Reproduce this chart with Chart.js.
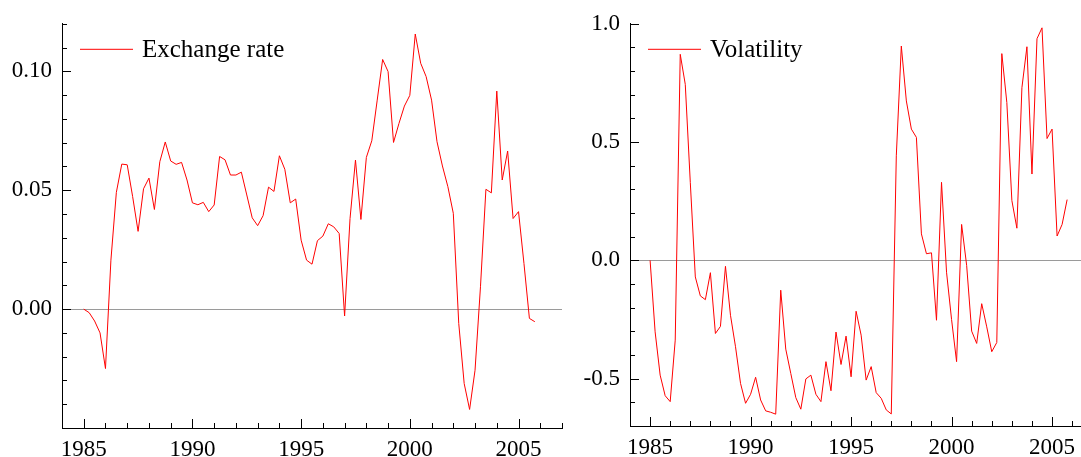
<!DOCTYPE html>
<html>
<head>
<meta charset="utf-8">
<script src="https://cdn.jsdelivr.net/npm/chart.js@4.4.1/dist/chart.umd.min.js"></script>
<style>
  html, body { margin: 0; padding: 0; background: #fff; overflow: hidden; }
  .panel { position: absolute; top: 0; height: 457px; }
  #left { left: 0; width: 570px; }
  #right { left: 570px; width: 511px; }
</style>
</head>
<body>
<div class="panel" id="left"><canvas id="exchangeChart"></canvas></div>
<div class="panel" id="right"><canvas id="volatilityChart"></canvas></div>
<script>
/* ================= DATA ================= */
// quarterly observations, 1985Q1 .. 2005Q4
const quarters = [];
for (let year = 1985; year <= 2005; year++) {
    for (let q = 0; q < 4; q++) quarters.push(year + q / 4);
}

const exchangeRate = [
    0.000, -0.0015, -0.005, -0.010, -0.025, 0.0206, 0.0491, 0.0610,
    0.0607, 0.0473, 0.0327, 0.0506, 0.0551, 0.0419, 0.0620, 0.0703,
    0.0623, 0.0609, 0.0617, 0.0543, 0.0447, 0.0439, 0.0449, 0.0410,
    0.0438, 0.0642, 0.0628, 0.0564, 0.0564, 0.0576, 0.0480, 0.0384,
    0.0351, 0.0393, 0.0513, 0.0495, 0.0645, 0.0588, 0.0447, 0.0463,
    0.0290, 0.0206, 0.0189, 0.0288, 0.0307, 0.0359, 0.0346, 0.0318,
    -0.0029, 0.0381, 0.0627, 0.0377, 0.0638, 0.0708, 0.0879, 0.1050,
    0.0999, 0.0701, 0.0781, 0.0854, 0.0899, 0.1157, 0.1034, 0.0978,
    0.0879, 0.0704, 0.0602, 0.0515, 0.0403, -0.0060, -0.0313, -0.0422,
    -0.0257, 0.0094, 0.0504, 0.0489, 0.0917, 0.0543, 0.0665, 0.0381,
    0.0410, 0.0192, -0.0039, -0.0053
];

const volatility = [
    0.000, -0.302, -0.485, -0.572, -0.597, -0.337, 0.871, 0.744,
    0.330, -0.070, -0.150, -0.166, -0.052, -0.309, -0.279, -0.025,
    -0.232, -0.365, -0.520, -0.604, -0.566, -0.494, -0.590, -0.636,
    -0.642, -0.650, -0.126, -0.375, -0.478, -0.580, -0.629, -0.501,
    -0.485, -0.566, -0.597, -0.428, -0.551, -0.303, -0.440, -0.320,
    -0.492, -0.215, -0.316, -0.506, -0.449, -0.559, -0.583, -0.632,
    -0.649, 0.442, 0.906, 0.674, 0.555, 0.520, 0.112, 0.028,
    0.032, -0.253, 0.330, -0.050, -0.250, -0.428, 0.152, -0.021,
    -0.299, -0.351, -0.183, -0.281, -0.386, -0.347, 0.874, 0.667,
    0.253, 0.136, 0.730, 0.903, 0.365, 0.937, 0.983, 0.515,
    0.555, 0.103, 0.152, 0.257
];

const yearTicks = [1984, 1985, 1986, 1987, 1988, 1989, 1990, 1991, 1992, 1993, 1994, 1995,
    1996, 1997, 1998, 1999, 2000, 2001, 2002, 2003, 2004, 2005, 2006, 2007];
const yearLabels = ['1985', '1990', '1995', '2000', '2005'];

const exchangeTicks = [-0.05, -0.04, -0.03, -0.02, -0.01, 0, 0.01, 0.02, 0.03, 0.04,
    0.05, 0.06, 0.07, 0.08, 0.09, 0.10, 0.11, 0.12];
const exchangeLabels = ['0.00', '0.05', '0.10'];

const volatilityTicks = [-0.7, -0.6, -0.5, -0.4, -0.3, -0.2, -0.1, 0, 0.1, 0.2,
    0.3, 0.4, 0.5, 0.6, 0.7, 0.8, 0.9, 1.0];
const volatilityLabels = ['-0.5', '0.0', '0.5', '1.0'];

/* ================= STYLE ================= */
const SERIF = '"Liberation Serif", "Times New Roman", serif';
Chart.defaults.font.family = SERIF;
Chart.defaults.font.size = 23;
Chart.defaults.color = '#000';

/* ================= PLUGINS ================= */
// tick marks drawn inside the plot, long ones where there is a label
const innerTicks = {
    id: 'innerTicks',
    afterDraw(chart) {
        const { ctx, chartArea } = chart;
        const xs = chart.scales.x, ys = chart.scales.y;
        ctx.save();
        ctx.strokeStyle = '#000';
        ctx.lineWidth = 1;
        ctx.beginPath();
        xs.ticks.forEach(t => {
            const px = Math.round(xs.getPixelForValue(t.value)) + 0.5;
            const len = t.label ? 9 : 5;
            ctx.moveTo(px, chartArea.bottom);
            ctx.lineTo(px, chartArea.bottom - len);
        });
        ys.ticks.forEach(t => {
            const py = Math.round(ys.getPixelForValue(t.value)) + 0.5;
            const len = t.label ? 9 : 5;
            ctx.moveTo(chartArea.left, py);
            ctx.lineTo(chartArea.left + len, py);
        });
        ctx.stroke();
        ctx.restore();
    }
};

// legend sample line + name in the upper left of the plot
const innerLegend = {
    id: 'innerLegend',
    afterDraw(chart) {
        const { ctx, chartArea } = chart;
        const ds = chart.data.datasets[0];
        const y = chartArea.top + 25.5;
        ctx.save();
        ctx.strokeStyle = ds.borderColor;
        ctx.lineWidth = 1;
        ctx.beginPath();
        ctx.moveTo(chartArea.left + 18, y);
        ctx.lineTo(chartArea.left + 71, y);
        ctx.stroke();
        ctx.fillStyle = '#000';
        ctx.font = '25px ' + SERIF;
        ctx.textBaseline = 'alphabetic';
        ctx.fillText(ds.label, chartArea.left + 80, y + 8);
        ctx.restore();
    }
};

/* ================= CHARTS ================= */
function createPanel(canvasId, cfg) {
    const points = quarters.map((q, i) => ({ x: q, y: cfg.values[i] }));
    return new Chart(document.getElementById(canvasId), {
        type: 'line',
        data: {
            datasets: [{
                label: cfg.name,
                data: points,
                borderColor: '#ff0000',
                borderWidth: 1,
                pointRadius: 0,
                tension: 0,
                fill: false
            }]
        },
        options: {
            responsive: true,
            maintainAspectRatio: false,
            animation: false,
            layout: { padding: cfg.padding },
            plugins: { legend: { display: false }, tooltip: { enabled: false } },
            scales: {
                x: {
                    type: 'linear',
                    min: 1984,
                    max: cfg.xMax,
                    afterBuildTicks: s => { s.ticks = cfg.xTicks.map(v => ({ value: v })); },
                    afterFit: s => { s.height = cfg.xHeight; },
                    ticks: {
                        autoSkip: false,
                        maxRotation: 0,
                        padding: 8,
                        callback: v => yearLabels.includes(String(v)) ? String(v) : ''
                    },
                    grid: { drawTicks: false, color: 'rgba(0,0,0,0)' },
                    border: { display: true, color: '#000', width: 1 }
                },
                y: {
                    min: cfg.yMin,
                    max: cfg.yMax,
                    afterBuildTicks: s => { s.ticks = cfg.yTicks.map(v => ({ value: v })); },
                    afterFit: s => { s.width = cfg.yWidth; },
                    ticks: {
                        autoSkip: false,
                        padding: 10,
                        callback: v => {
                            const txt = v.toFixed(cfg.digits);
                            return cfg.yLabels.includes(txt) ? txt : '';
                        }
                    },
                    grid: {
                        drawTicks: false,
                        lineWidth: 1,
                        color: c => (c.tick && Math.abs(c.tick.value) < 1e-9) ? '#9a9a9a' : 'rgba(0,0,0,0)'
                    },
                    border: { display: true, color: '#000', width: 1 }
                }
            }
        },
        plugins: [innerTicks, innerLegend]
    });
}

/* ================= INIT ================= */
createPanel('exchangeChart', {
    name: 'Exchange rate',
    values: exchangeRate,
    xMax: 2007,
    xTicks: yearTicks,
    xHeight: 29,
    yMin: -0.05,
    yMax: 0.12,
    yTicks: exchangeTicks,
    yLabels: exchangeLabels,
    yWidth: 62,
    digits: 2,
    padding: { top: 23, right: 5, left: 0, bottom: 0 }
});

createPanel('volatilityChart', {
    name: 'Volatility',
    values: volatility,
    xMax: 2006.44,
    xTicks: yearTicks.filter(v => v <= 2006),
    xHeight: 31,
    yMin: -0.7,
    yMax: 1.0,
    yTicks: volatilityTicks,
    yLabels: volatilityLabels,
    yWidth: 60,
    digits: 1,
    padding: { top: 22.5, right: 0, left: 0, bottom: 0 }
});
</script>
</body>
</html>
